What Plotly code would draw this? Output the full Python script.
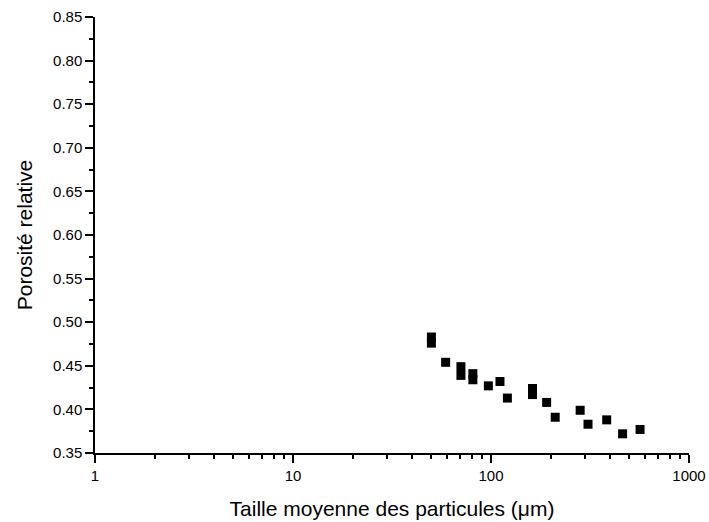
import plotly.graph_objects as go

particle_size = [50, 50, 59, 70.5, 70.5, 81, 81, 97, 111, 121, 162, 162, 191, 211, 282, 309, 384, 462, 566]
porosity = [0.483, 0.476, 0.454, 0.449, 0.439, 0.441, 0.434, 0.427, 0.432, 0.413, 0.424, 0.417, 0.408, 0.391, 0.399, 0.383, 0.388, 0.372, 0.377]

x_ticks = [1, 10, 100, 1000]
x_minor = [m * d for d in (1, 10, 100) for m in range(2, 10)]

font_family = "Liberation Sans, Arial, sans-serif"

fig = go.Figure(go.Scatter(
    x=particle_size, y=porosity, mode="markers",
    marker=dict(symbol="square", size=9, color="black", line=dict(width=0)),
    showlegend=False,
))

fig.update_layout(
    width=709, height=522,
    margin=dict(l=95, r=20, t=17, b=69),
    paper_bgcolor="white", plot_bgcolor="white",
    font=dict(family=font_family, color="black", size=15),
)

fig.update_xaxes(
    type="log", range=[0, 3], automargin=False,
    tickvals=x_ticks, ticktext=[str(v) for v in x_ticks],
    ticks="outside", ticklen=8, tickwidth=1.5, tickcolor="black",
    showline=True, linecolor="black", linewidth=1.5,
    showgrid=False, zeroline=False,
    tickfont=dict(size=15),
    minor=dict(tickvals=x_minor, ticks="outside", ticklen=4, tickwidth=1.5, tickcolor="black", showgrid=False),
    title=dict(text="Taille moyenne des particules (μm)", font=dict(size=21), standoff=19),
)

fig.update_yaxes(
    range=[0.35, 0.85], dtick=0.05, tick0=0.35, tickformat=".2f", automargin=False,
    ticks="outside", ticklen=8, tickwidth=1.5, tickcolor="black",
    showline=True, linecolor="black", linewidth=1.5,
    showgrid=False, zeroline=False,
    tickfont=dict(size=15),
    minor=dict(dtick=0.025, tick0=0.35, ticks="outside", ticklen=4, tickwidth=1.5, tickcolor="black", showgrid=False),
    title=dict(text="Porosité relative", font=dict(size=21), standoff=15),
)

fig.write_html("out.html")
